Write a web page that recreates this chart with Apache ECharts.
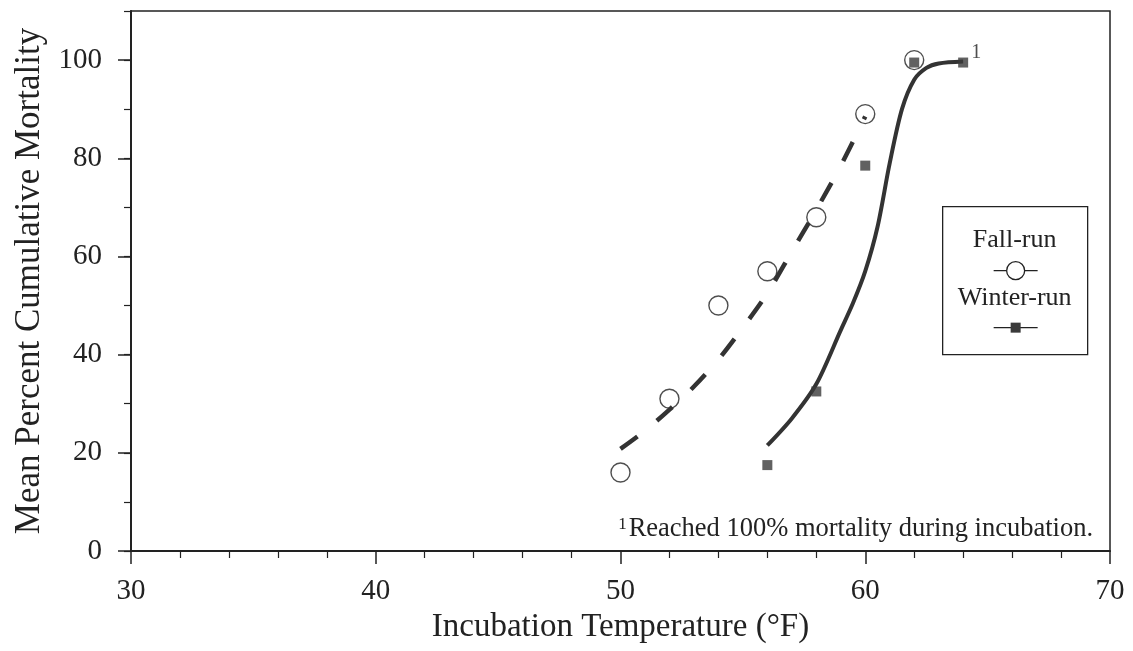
<!DOCTYPE html>
<html>
<head>
<meta charset="utf-8">
<script src="https://cdn.jsdelivr.net/npm/echarts@6/dist/echarts.min.js"></script>
<style>
html,body{margin:0;padding:0;background:#fff;}
#chart{width:1133px;height:651px;}
</style>
</head>
<body>
<div id="chart"></div>
<script>
// Observed points
const fallX = [50, 52, 54, 56, 58, 60, 62];
const fallY = [16, 31, 50, 57, 68, 89, 100];
const winterX = [56, 58, 60, 62, 64];
const winterY = [17.5, 32.5, 78.5, 99.5, 99.5];
// Fitted curves
const fallFitX = [50, 51, 52, 53, 54, 55, 56, 57, 58, 59, 60];
const fallFitY = [20.8, 24.5, 28.8, 33.5, 39, 45.5, 52.5, 61, 69.5, 78.5, 88.5];
const winterFitX = [56, 57, 58, 59, 59.5, 60, 60.5, 61, 61.5, 62, 62.5, 63, 64];
const winterFitY = [21.5, 27, 34, 45, 50.5, 57, 66, 79, 90, 96, 98.4, 99.3, 99.7];
// Axis ticks
const xTicks = [30, 40, 50, 60, 70];
const yTicks = [0, 20, 40, 60, 80, 100];
const seriesNames = ['Fall-run', 'Winter-run'];
const footnote = 'Reached 100% mortality during incubation.';

const FONT = '"Liberation Serif", "DejaVu Serif", serif';
const INK = '#222';

const zip = (a, b) => a.map((v, i) => [v, b[i]]);

const chart = echarts.init(document.getElementById('chart'));
chart.setOption({
  animation: false,
  backgroundColor: '#fff',
  grid: { left: 131, right: 23, top: 11, bottom: 100, show: true, borderColor: INK, borderWidth: 1.5, containLabel: false },
  xAxis: {
    type: 'value', min: xTicks[0], max: xTicks[xTicks.length - 1], interval: 10,
    name: 'Incubation Temperature (°F)', nameLocation: 'middle', nameGap: 58,
    nameTextStyle: { fontFamily: FONT, fontSize: 33, color: INK },
    axisLine: { show: true, lineStyle: { color: INK, width: 2 } },
    axisTick: { show: true, inside: false, length: 13, lineStyle: { color: INK, width: 1.5 } },
    minorTick: { show: true, splitNumber: 5, length: 7, lineStyle: { color: INK, width: 1.2 } },
    axisLabel: { fontFamily: FONT, fontSize: 29, color: INK, margin: 26 },
    splitLine: { show: false }
  },
  yAxis: [{
    type: 'value', min: 0, max: 110, interval: 20, position: 'left',
    name: 'Mean Percent Cumulative Mortality', nameLocation: 'middle', nameGap: 80,
    nameTextStyle: { fontFamily: FONT, fontSize: 35, color: INK },
    axisLine: { show: true, lineStyle: { color: INK, width: 2 } },
    axisTick: { show: true, inside: false, length: 13, lineStyle: { color: INK, width: 1.5 } },
    axisLabel: { fontFamily: FONT, fontSize: 29, color: INK, margin: 29, showMaxLabel: false,
      formatter: v => (yTicks.indexOf(v) >= 0 ? String(v) : '') },
    splitLine: { show: false }
  }, {
    type: 'value', min: 0, max: 110, interval: 10, position: 'left',
    axisLine: { show: false },
    axisTick: { show: true, inside: false, length: 7, lineStyle: { color: INK, width: 1.2 } },
    axisLabel: { show: false },
    splitLine: { show: false }
  }],
  series: [
    {
      name: seriesNames[0], type: 'scatter', yAxisIndex: 0, z: 2,
      symbol: 'circle', symbolSize: 19,
      itemStyle: { color: '#fff', borderColor: INK, borderWidth: 1.4 },
      data: zip(fallX, fallY)
    },
    {
      name: seriesNames[0] + ' fit', type: 'line', yAxisIndex: 0, z: 3,
      showSymbol: false, smooth: 0.3,
      lineStyle: { color: '#333', width: 4.5, type: [21, 25] },
      data: zip(fallFitX, fallFitY)
    },
    {
      name: seriesNames[1] + ' fit', type: 'line', yAxisIndex: 0, z: 3,
      showSymbol: false, smooth: 0.3,
      lineStyle: { color: '#333', width: 4 },
      data: zip(winterFitX, winterFitY)
    },
    {
      name: seriesNames[1], type: 'scatter', yAxisIndex: 0, z: 4,
      symbol: 'rect', symbolSize: 10,
      itemStyle: { color: '#3a3a3a' },
      data: zip(winterX, winterY).map((p, i) => i === winterX.length - 1
        ? { value: p, label: { show: true, formatter: '1', position: [13, -15], fontFamily: FONT, fontSize: 20, color: INK } }
        : p)
    }
  ],
  graphic: [
    {
      type: 'text', right: 40, top: 516, z: 10,
      style: {
        text: '{sup|1}{main|' + footnote + '}',
        rich: {
          sup: { fontFamily: FONT, fontSize: 17, fill: INK, verticalAlign: 'top', padding: [0, 2, 0, 0] },
          main: { fontFamily: FONT, fontSize: 26.5, fill: INK }
        }
      }
    },
    {
      type: 'group', left: 942, top: 206, z: 10,
      children: [
        { type: 'rect', shape: { x: 0, y: 0, width: 145, height: 148 }, style: { fill: '#fff', stroke: INK, lineWidth: 1.3 } },
        { type: 'text', style: { text: seriesNames[0], x: 72, y: 34, align: 'center', verticalAlign: 'middle', font: '26px ' + FONT, fill: INK } },
        { type: 'line', shape: { x1: 51, y1: 64, x2: 95, y2: 64 }, style: { stroke: INK, lineWidth: 1.2 } },
        { type: 'circle', shape: { cx: 73, cy: 64, r: 9 }, style: { fill: '#fff', stroke: INK, lineWidth: 1.3 } },
        { type: 'text', style: { text: seriesNames[1], x: 72, y: 92, align: 'center', verticalAlign: 'middle', font: '26px ' + FONT, fill: INK } },
        { type: 'line', shape: { x1: 51, y1: 121, x2: 95, y2: 121 }, style: { stroke: INK, lineWidth: 1.2 } },
        { type: 'rect', shape: { x: 68, y: 116, width: 10, height: 10 }, style: { fill: '#3a3a3a' } }
      ]
    }
  ]
});
</script>
</body>
</html>
